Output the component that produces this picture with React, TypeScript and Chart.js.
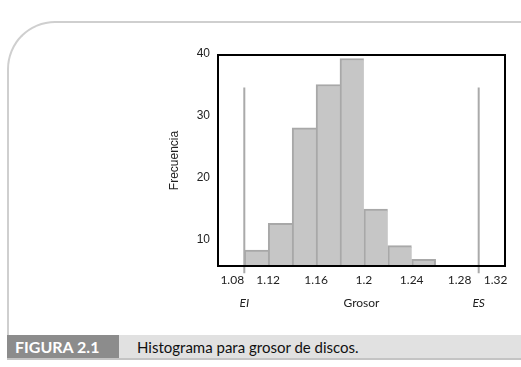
import React, { useEffect, useRef } from "react";
import { Chart, registerables } from "chart.js";

Chart.register(...registerables);

// Histogram bins (start of each bin) and frequencies
const binStarts = [1.1, 1.12, 1.14, 1.16, 1.18, 1.2, 1.22, 1.24];
const counts = [8.3, 12.6, 28, 35, 39.2, 14.9, 9, 6.8];
const binWidth = 0.02;

// Specification limits
const limitLabels = ["EI", "ES"];
const limitValues = [1.1, 1.296];
const limitTop = 34.5;
const limitBottom = 4.54;

// Axis ticks
const xTicks = [1.08, 1.12, 1.16, 1.2, 1.24, 1.28, 1.32];
const yTicks = [10, 20, 30, 40];
const xMin = 1.078;
const xMax = 1.318;
const yMin = 5.72;
const yMax = 39.76;

const xTitle = "Grosor";
const yTitle = "Frecuencia";
const figLabel = "FIGURA 2.1";
const caption = "Histograma para grosor de discos.";

const boxPlugin = {
  id: "boxAndLimits",
  afterDatasetsDraw(chart: any) {
    const { ctx, chartArea } = chart;
    ctx.save();
    ctx.strokeStyle = "#000";
    ctx.lineWidth = 2;
    ctx.strokeRect(
      chartArea.left,
      chartArea.top,
      chartArea.right - chartArea.left,
      chartArea.bottom - chartArea.top
    );
    ctx.restore();
  },
  afterDraw(chart: any) {
    const { ctx, chartArea, scales } = chart;
    ctx.save();
    ctx.fillStyle = "#222";
    ctx.font = "italic 12px Lato, 'Open Sans', sans-serif";
    ctx.textAlign = "center";
    ctx.textBaseline = "middle";
    limitValues.forEach((v, i) => {
      const x = scales.x.getPixelForValue(v);
      ctx.fillText(limitLabels[i], x, chartArea.bottom + 37);
    });
    ctx.restore();
  },
};

export default function App() {
  const canvasRef = useRef<HTMLCanvasElement | null>(null);

  useEffect(() => {
    if (!canvasRef.current) return;
    const barData = binStarts.map((s, i) => ({ x: s + binWidth / 2, y: counts[i] }));
    const limitSets = limitValues.map((v, i) => ({
      type: "line" as const,
      label: limitLabels[i],
      data: [
        { x: v, y: limitTop },
        { x: v, y: limitBottom },
      ],
      borderColor: "#aaaaaa",
      borderWidth: 2,
      pointRadius: 0,
      clip: false as any,
      order: 0,
    }));
    const chart = new Chart(canvasRef.current, {
      type: "bar",
      data: {
        datasets: [
          {
            type: "bar" as const,
            label: "Frecuencia",
            data: barData as any,
            backgroundColor: "#c6c6c6",
            borderColor: "#a8a8a8",
            borderWidth: ((c: any) => ({
              top: 2,
              left: 2,
              bottom: 0,
              right: c.dataIndex === counts.length - 1 ? 2 : 0,
            })) as any,
            borderSkipped: "start",
            barPercentage: 1,
            categoryPercentage: 1,
            order: 1,
          },
          ...(limitSets as any),
        ],
      },
      options: {
        responsive: false,
        animation: false,
        devicePixelRatio: 1,
        layout: { padding: { left: 160, top: 55, right: 16, bottom: 51 } },
        plugins: { legend: { display: false }, tooltip: { enabled: false } },
        scales: {
          x: {
            type: "linear",
            offset: false,
            min: xMin,
            max: xMax,
            grid: { display: false, drawTicks: false, offset: false },
            border: { display: false },
            afterBuildTicks: (s: any) => {
              s.ticks = xTicks.map((v) => ({ value: v }));
            },
            afterFit: (s: any) => {
              s.height = 50;
            },
            ticks: {
              autoSkip: false,
              maxRotation: 0,
              minRotation: 0,
              align: "inner",
              padding: 7,
              color: "#222",
              font: { family: "Lato, 'Open Sans', sans-serif", size: 12 },
              callback: (v: any) => String(Number(v)),
            },
            title: {
              display: true,
              text: xTitle,
              color: "#222",
              font: { family: "Lato, 'Open Sans', sans-serif", size: 12 },
              padding: { top: 0, bottom: 5.8 },
            },
          },
          y: {
            type: "linear",
            min: yMin,
            max: yMax,
            grid: { display: false, drawTicks: false },
            border: { display: false },
            afterBuildTicks: (s: any) => {
              s.ticks = yTicks.map((v) => ({ value: v }));
            },
            afterFit: (s: any) => {
              s.width = 58;
            },
            ticks: {
              padding: 8,
              color: "#222",
              font: { family: "'Liberation Sans', Arial, sans-serif", size: 12 },
            },
            title: {
              display: true,
              text: yTitle,
              color: "#222",
              font: { family: "'Liberation Sans', Arial, sans-serif", size: 12 },
              padding: { top: 7, bottom: 0 },
            },
          },
        },
      } as any,
      plugins: [boxPlugin],
    });
    return () => chart.destroy();
  }, []);

  return (
    <div
      style={{
        position: "absolute",
        left: 0,
        top: 0,
        width: 521,
        height: 367,
        overflow: "hidden",
        background: "#fff",
      }}
    >
      <div
        style={{
          position: "absolute",
          left: 7,
          top: 21,
          width: 514,
          height: 314,
          boxSizing: "border-box",
          borderTop: "2px solid #cfcfcf",
          borderLeft: "2px solid #cfcfcf",
          borderTopLeftRadius: 48,
        }}
      />
      <canvas
        ref={canvasRef}
        width={521}
        height={367}
        style={{ position: "absolute", left: 0, top: 0 }}
      />
      <div
        style={{
          position: "absolute",
          left: 7,
          top: 335,
          width: 514,
          height: 25,
          boxSizing: "border-box",
          background: "#e1e1e1",
          borderBottom: "2px solid #c4c4c4",
          display: "flex",
          alignItems: "center",
          fontFamily: "Lato, 'Open Sans', sans-serif",
          fontSize: 15,
        }}
      >
        <div
          style={{
            width: 112,
            height: "100%",
            background: "#8c8c8c",
            color: "#fff",
            fontWeight: 700,
            fontSize: 16,
            display: "flex",
            alignItems: "center",
            paddingLeft: 8,
            boxSizing: "border-box",
          }}
        >
          {figLabel}
        </div>
        <div style={{ paddingLeft: 18, color: "#111" }}>{caption}</div>
      </div>
    </div>
  );
}
